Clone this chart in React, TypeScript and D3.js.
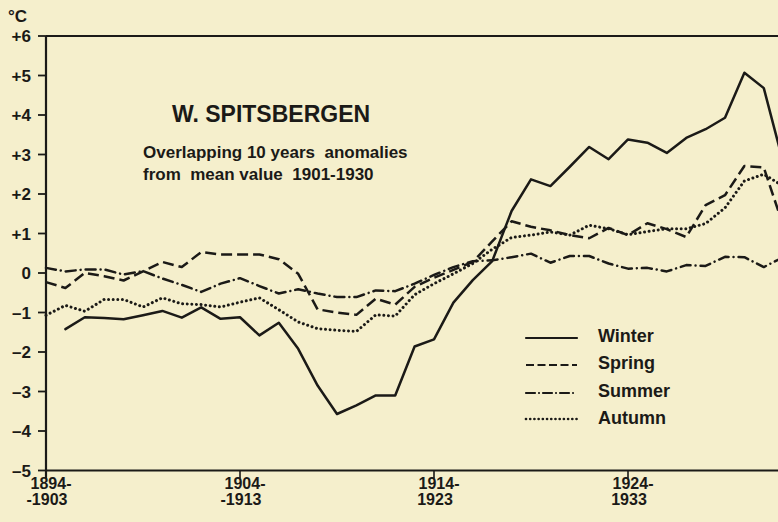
import * as d3 from "d3";

const firstYear = 1894;
const winter: (number | null)[] = [null, -1.42, -1.12, -1.14, -1.17, -1.07, -0.96, -1.13, -0.87, -1.16, -1.12, -1.58, -1.26, -1.92, -2.85, -3.57, -3.35, -3.1, -3.1, -1.86, -1.68, -0.75, -0.18, 0.3, 1.57, 2.37, 2.2, 2.69, 3.19, 2.88, 3.38, 3.3, 3.04, 3.42, 3.64, 3.93, 5.07, 4.68, 2.8];
const spring = [-0.23, -0.38, 0.0, -0.08, -0.19, 0.04, 0.28, 0.15, 0.53, 0.47, 0.47, 0.47, 0.35, -0.02, -0.92, -1.0, -1.06, -0.65, -0.8, -0.35, -0.12, 0.08, 0.28, 0.8, 1.31, 1.17, 1.08, 0.96, 0.88, 1.14, 0.96, 1.26, 1.11, 0.91, 1.72, 1.97, 2.71, 2.67, 1.2];
const summer = [0.13, 0.04, 0.09, 0.09, -0.04, 0.05, -0.14, -0.3, -0.48, -0.27, -0.13, -0.33, -0.52, -0.41, -0.52, -0.61, -0.61, -0.44, -0.46, -0.27, -0.05, 0.15, 0.3, 0.32, 0.4, 0.49, 0.26, 0.43, 0.43, 0.24, 0.11, 0.13, 0.04, 0.2, 0.18, 0.41, 0.4, 0.15, 0.4];
const autumn = [-1.07, -0.82, -0.97, -0.67, -0.67, -0.86, -0.63, -0.78, -0.8, -0.86, -0.74, -0.63, -0.93, -1.24, -1.41, -1.45, -1.48, -1.06, -1.09, -0.55, -0.27, -0.02, 0.24, 0.6, 0.9, 0.96, 1.04, 0.96, 1.21, 1.12, 0.97, 1.05, 1.12, 1.12, 1.25, 1.65, 2.33, 2.5, 2.2];

const yTicks = [6, 5, 4, 3, 2, 1, 0, -1, -2, -3, -4, -5];
const yTickLabels = ["+6", "+5", "+4", "+3", "+2", "+1", "0", "\u20131", "\u20132", "\u20133", "\u20134", "\u20135"];
const xTicks = [1894, 1904, 1914, 1924];
const xTickTop = ["1894-", "1904-", "1914-", "1924-"];
const xTickBottom = ["-1903", "-1913", "1923", "1933"];

const seasons = ["Winter", "Spring", "Summer", "Autumn"];
const seriesData = [winter, spring, summer, autumn];
const dashes = ["none", "11,5", "10,5,0.01,5", "0.01,4.6"];
const widths = [2.5, 2.5, 2.5, 3];
const caps: ("butt" | "round")[] = ["round", "butt", "round", "round"];

const ink = "#1b1a17";
const font = "'Liberation Sans', Arial, Helvetica, sans-serif";

export default function App() {
  const width = 778;
  const height = 522;
  const left = 46;
  const x = d3.scaleLinear([firstYear, firstYear + 38], [left, left + 38 * 19.4]);
  const y = d3.scaleLinear([-5, 6], [470.5, 36]);

  const line = d3
    .line<number | null>()
    .defined((d) => d !== null)
    .x((_d, i) => x(firstYear + i))
    .y((d) => y(d as number));

  const legendY = [338, 365, 393, 419];
  const legendText = [342, 368.5, 396.5, 424];
  const legendDash = ["none", "8,3.5", "9,4,0.01,4", "0.01,4.2"];

  return (
    <svg
      width={width}
      height={height}
      style={{ position: "absolute", left: 0, top: 0, background: "#f5efcc" }}
      fontFamily={font}
      fontWeight="bold"
      fill={ink}
    >
      <rect width={width} height={height} fill="#f5efcc" />
      {/* frame */}
      <line x1={left} x2={width} y1={y(6)} y2={y(6)} stroke={ink} strokeWidth={2} />
      <line x1={left} x2={width} y1={y(-5)} y2={y(-5)} stroke={ink} strokeWidth={2} />
      <line x1={left} x2={left} y1={y(6)} y2={y(-5) + 8} stroke={ink} strokeWidth={2.2} />

      {yTicks.map((t, i) => (
        <g key={t}>
          <line x1={left - 8} x2={left} y1={y(t)} y2={y(t)} stroke={ink} strokeWidth={1.8} />
          <text x={31} y={y(t) + 6} textAnchor="end" fontSize={17}>
            {yTickLabels[i]}
          </text>
        </g>
      ))}
      <text x={8} y={22} fontSize={17}>°C</text>

      {xTicks.map((t, i) => (
        <g key={t}>
          <line x1={x(t)} x2={x(t)} y1={y(-5)} y2={y(-5) + 8} stroke={ink} strokeWidth={1.6} />
          <text x={x(t) + 5} y={489} textAnchor="middle" fontSize={16}>
            {xTickTop[i]}
          </text>
          <text x={x(t) + 1} y={505} textAnchor="middle" fontSize={16}>
            {xTickBottom[i]}
          </text>
        </g>
      ))}

      <text x={172} y={122} fontSize={23}>W. SPITSBERGEN</text>
      <text x={143} y={158} fontSize={17} style={{ whiteSpace: "pre" }}>
        Overlapping 10 years  anomalies
      </text>
      <text x={143} y={180} fontSize={17} style={{ whiteSpace: "pre" }}>
        from  mean value  1901-1930
      </text>

      {seriesData.map((s, k) => (
        <path
          key={seasons[k]}
          d={line(s) || ""}
          fill="none"
          stroke={ink}
          strokeWidth={widths[k]}
          strokeDasharray={dashes[k]}
          strokeLinecap={caps[k]}
          strokeLinejoin="round"
        />
      ))}

      {seasons.map((s, k) => (
        <g key={s}>
          <line
            x1={526}
            x2={577}
            y1={legendY[k]}
            y2={legendY[k]}
            stroke={ink}
            strokeWidth={widths[k] - 0.3}
            strokeDasharray={legendDash[k]}
            strokeLinecap={caps[k]}
          />
          <text x={598} y={legendText[k]} fontSize={18}>
            {s}
          </text>
        </g>
      ))}
    </svg>
  );
}
